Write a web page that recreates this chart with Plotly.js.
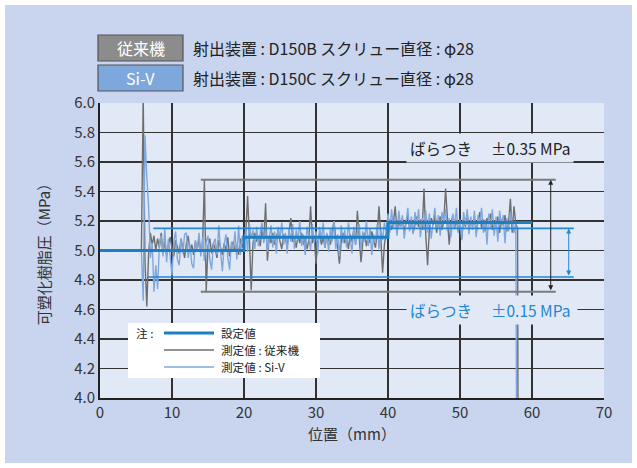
<!DOCTYPE html>
<html>
<head>
<meta charset="utf-8">
<script src="https://cdn.plot.ly/plotly-3.0.1.min.js"></script>
<style>html,body{margin:0;padding:0;background:#fff;}#chart{width:637px;height:468px;}</style>
</head>
<body>
<div id="chart"></div>
<script>
// ---- data ----
const setPos = [0, 20, 40, 60];
const setValue = [5.0, 5.09, 5.19, 5.19];

const startPos = [0, 5.75];
const startValue = [5.0, 5.0];

const samplePos = [
  6,6.25,6.5,6.75, 7,7.25,7.5,7.75, 8,8.25,8.5,8.75, 9,9.25,9.5,9.75,
  10,10.25,10.5,10.75, 11,11.25,11.5,11.75, 12,12.25,12.5,12.75, 13,13.25,13.5,13.75,
  14,14.25,14.5,14.75, 15,15.25,15.5,15.75, 16,16.25,16.5,16.75, 17,17.25,17.5,17.75,
  18,18.25,18.5,18.75, 19,19.25,19.5,19.75, 20,20.25,20.5,20.75, 21,21.25,21.5,21.75,
  22,22.25,22.5,22.75, 23,23.25,23.5,23.75, 24,24.25,24.5,24.75, 25,25.25,25.5,25.75,
  26,26.25,26.5,26.75, 27,27.25,27.5,27.75, 28,28.25,28.5,28.75, 29,29.25,29.5,29.75,
  30,30.25,30.5,30.75, 31,31.25,31.5,31.75, 32,32.25,32.5,32.75, 33,33.25,33.5,33.75,
  34,34.25,34.5,34.75, 35,35.25,35.5,35.75, 36,36.25,36.5,36.75, 37,37.25,37.5,37.75,
  38,38.25,38.5,38.75, 39,39.25,39.5,39.75, 40,40.25,40.5,40.75, 41,41.25,41.5,41.75,
  42,42.25,42.5,42.75, 43,43.25,43.5,43.75, 44,44.25,44.5,44.75, 45,45.25,45.5,45.75,
  46,46.25,46.5,46.75, 47,47.25,47.5,47.75, 48,48.25,48.5,48.75, 49,49.25,49.5,49.75,
  50,50.25,50.5,50.75, 51,51.25,51.5,51.75, 52,52.25,52.5,52.75, 53,53.25,53.5,53.75,
  54,54.25,54.5,54.75, 55,55.25,55.5,55.75, 56,56.25,56.5,56.75, 57,57.25,57.5,57.75
];

const grayValue = [
  6.05,4.92,4.62,4.98, 5.12,5.04,5.10,5.00, 5.08,5.02,5.12,4.98, 5.06,4.97,5.04,5.09,
  5.01,4.96,5.07,5.03, 4.98,5.08,5.02,4.95, 5.05,5.10,4.99,5.04, 4.97,5.06,5.01,5.08,
  4.99,5.04,5.48,4.72, 5.03,5.08,4.98,5.05, 5.01,4.95,5.07,5.02, 4.97,5.05,5.00,5.09,
  4.96,5.03,5.06,4.99, 5.04,4.97,5.08,5.02, 5.06,5.12,5.37,5.08, 4.73,5.05,5.12,5.06,
  5.10,5.03,5.14,5.07, 5.32,4.93,5.10,5.05, 5.12,5.04,5.09,5.14, 5.06,5.01,5.11,5.08,
  5.03,5.13,5.22,5.06, 5.09,5.02,5.10,5.05, 5.12,5.04,5.08,5.01, 5.07,5.30,5.05,5.10,
  4.91,5.06,5.12,5.04, 5.09,5.02,5.11,5.07, 5.04,5.13,5.20,5.08, 5.03,4.91,5.06,5.12,
  5.05,5.09,5.01,5.11, 5.06,5.14,5.04,5.27, 5.08,4.92,5.06,5.12, 5.03,5.10,5.05,5.13,
  5.07,5.02,5.11,5.30, 5.09,4.85,5.04,5.12, 5.16,5.21,5.14,5.19, 5.30,5.12,5.20,5.16,
  5.22,5.13,5.19,5.24, 5.15,5.20,5.12,5.18, 5.23,5.16,5.21,5.14, 5.42,5.10,4.90,5.15,
  5.22,5.17,5.25,5.12, 5.19,5.23,5.14,5.20, 5.42,5.22,5.04,5.18, 5.24,5.15,5.21,5.13,
  5.19,5.08,5.22,5.16, 5.25,5.14,5.20,5.17, 5.23,5.12,5.19,5.26, 5.15,5.21,5.13,5.22,
  5.18,5.25,5.14,5.20, 5.16,5.23,5.12,5.21, 5.17,5.24,5.13,5.19, 5.35,5.12,5.30,5.18
];
const grayEndPos = [58.0, 58.05];
const grayEndValue = [5.15, 3.9];

const blueValue = [
  4.66,5.78,5.50,5.30, 4.95,5.05,4.72,4.90, 4.74,5.05,5.10,4.96, 5.15,4.92,5.08,4.97,
  4.83,5.06,5.13,4.94, 4.90,5.08,4.98,5.11, 5.12,4.95,5.04,4.91, 4.88,5.07,5.00,5.12,
  4.96,5.09,4.93,5.06, 5.10,4.94,4.87,5.05, 5.08,4.97,5.17,4.99, 4.86,5.04,5.11,4.95,
  4.87,5.06,5.00,5.13, 4.94,5.17,4.97,5.10, 5.04,5.15,4.99,5.18, 5.08,5.14,5.01,5.16,
  5.03,5.12,5.19,5.05, 5.15,4.99,5.10,5.17, 5.02,5.13,4.98,5.16, 5.08,5.19,5.04,5.12,
  4.98,5.15,5.06,5.18, 5.01,5.14,5.07,5.20, 5.03,5.11,4.97,5.16, 5.09,5.00,5.18,5.05,
  5.13,4.98,5.16,5.07, 5.19,5.02,5.12,4.99, 5.15,5.06,5.20,5.01, 5.11,4.96,5.17,5.05,
  5.14,5.02,5.19,5.08, 4.98,5.16,5.04,5.12, 5.18,5.00,5.13,5.06, 5.20,5.03,5.15,4.97,
  5.11,5.05,5.18,5.01, 5.14,5.07,5.19,5.12, 5.25,5.12,5.28,5.15, 5.22,5.10,5.27,5.16,
  5.24,5.08,5.21,5.29, 5.13,5.23,5.11,5.26, 5.17,5.28,5.09,5.22, 5.14,5.27,5.12,5.25,
  5.08,5.21,5.29,5.15, 5.24,5.10,5.26,5.18, 5.28,5.13,5.22,5.09, 5.25,5.16,5.29,5.12,
  5.21,5.07,5.26,5.17, 5.28,5.11,5.23,5.14, 5.27,5.09,5.24,5.18, 5.29,5.12,5.21,5.04,
  5.25,5.15,5.28,5.10, 5.23,5.06,5.27,5.16, 5.24,5.05,5.22,5.13, 5.26,5.18,5.12,5.20
];
const blueEndPos = [57.85];
const blueEndValue = [3.9];

// spread bands (ばらつき)
const grayBand = [5.48, 4.72];
const grayBandPos = [14.0, 63.3];
const grayArrowPos = 62.6;
const blueBand = [5.15, 4.82];
const blueBandTopPos = [7.4, 65.8];
const blueBandBottomPos = [6.6, 65.8];
const blueArrowPos = 65.1;

const xTicks = [0, 10, 20, 30, 40, 50, 60, 70];
const yTicks = [4.0, 4.2, 4.4, 4.6, 4.8, 5.0, 5.2, 5.4, 5.6, 5.8, 6.0];

// ---- styles ----
const FONT = '"Noto Sans CJK JP", "Noto Sans", sans-serif';
const C_SET = '#1b7fc3';
const C_GRAY = '#6e6e6e';
const C_BLUE = '#7fa7dd';
const C_BAND_BLUE = '#2486cf';
const PAGE_BG = '#c9d5ee';
const PLOT_BG = '#e1e9f6';

const traces = [
  {x: startPos.concat(samplePos, grayEndPos), y: startValue.concat(grayValue, grayEndValue),
   mode: 'lines', line: {color: C_GRAY, width: 1.4}, name: '測定値 : 従来機'},
  {x: startPos.concat(samplePos, blueEndPos), y: startValue.concat(blueValue, blueEndValue),
   mode: 'lines', line: {color: C_BLUE, width: 1.4}, name: '測定値 : Si-V'},
  {x: setPos, y: setValue, mode: 'lines', line: {color: C_SET, width: 3, shape: 'hv'}, name: '設定値'}
];

// paper-coordinate helpers (plot area: 100..604 px wide, 103..398 px tall)
const L = 100, R = 604, T = 103, B = 398;
const px = v => (v - L) / (R - L);
const py = v => (B - v) / (B - T);

// inset legend rows (px)
const rowY = [333, 350, 367];

const shapes = [
  // page background frame
  {type: 'rect', xref: 'paper', yref: 'paper', x0: px(5), x1: px(632), y0: py(5), y1: py(463),
   fillcolor: PAGE_BG, line: {width: 0}, layer: 'below'},
  {type: 'rect', xref: 'paper', yref: 'paper', x0: 0, x1: 1, y0: 0, y1: 1,
   fillcolor: PLOT_BG, line: {width: 0}, layer: 'below'},
  // gray band lines
  {type: 'line', xref: 'x', yref: 'y', x0: grayBandPos[0], x1: grayBandPos[1], y0: grayBand[0], y1: grayBand[0],
   line: {color: '#7a7a7a', width: 2}},
  {type: 'line', xref: 'x', yref: 'y', x0: grayBandPos[0], x1: grayBandPos[1], y0: grayBand[1], y1: grayBand[1],
   line: {color: '#7a7a7a', width: 2}},
  // blue band lines
  {type: 'line', xref: 'x', yref: 'y', x0: blueBandTopPos[0], x1: blueBandTopPos[1], y0: blueBand[0], y1: blueBand[0],
   line: {color: C_BAND_BLUE, width: 1.6}},
  {type: 'line', xref: 'x', yref: 'y', x0: blueBandBottomPos[0], x1: blueBandBottomPos[1], y0: blueBand[1], y1: blueBand[1],
   line: {color: C_BAND_BLUE, width: 1.6}},
  // top legend boxes
  {type: 'rect', xref: 'paper', yref: 'paper', x0: px(98), x1: px(183), y0: py(35), y1: py(61),
   fillcolor: '#8c8c8c', line: {color: '#555', width: 1.2}},
  {type: 'rect', xref: 'paper', yref: 'paper', x0: px(98), x1: px(183), y0: py(65), y1: py(91),
   fillcolor: '#7ea7dc', line: {color: '#555', width: 1.2}},
  // inset legend
  {type: 'rect', xref: 'paper', yref: 'paper', x0: px(128), x1: px(320), y0: py(323), y1: py(378),
   fillcolor: '#ffffff', line: {width: 0}, layer: 'above'},
  {type: 'line', xref: 'paper', yref: 'paper', x0: px(164), x1: px(214), y0: py(rowY[0]), y1: py(rowY[0]),
   line: {color: C_SET, width: 3}},
  {type: 'line', xref: 'paper', yref: 'paper', x0: px(164), x1: px(214), y0: py(rowY[1]), y1: py(rowY[1]),
   line: {color: C_GRAY, width: 1.5}},
  {type: 'line', xref: 'paper', yref: 'paper', x0: px(164), x1: px(214), y0: py(rowY[2]), y1: py(rowY[2]),
   line: {color: C_BLUE, width: 1.5}}
];

const tf = (size, color) => ({family: FONT, size: size, color: color});
const txt = (x, y, text, font, xanchor) => ({
  x: px(x), y: py(y), xref: 'paper', yref: 'paper', xanchor: xanchor || 'left', yanchor: 'middle',
  showarrow: false, text: text, font: font
});

const band35 = txt(406, 148, 'ばらつき　 ±0.35 MPa', tf(15.5, '#222'));
band35.bgcolor = PLOT_BG; band35.borderpad = 3;
const band15 = txt(406, 310, 'ばらつき　 ±0.15 MPa ', tf(15.5, C_BAND_BLUE));
band15.bgcolor = PLOT_BG; band15.borderpad = 3;

const annotations = [
  // arrows
  {x: grayArrowPos, y: grayBand[0], ax: grayArrowPos, ay: grayBand[1], xref: 'x', yref: 'y', axref: 'x', ayref: 'y',
   text: '', showarrow: true, arrowside: 'end+start', arrowhead: 2, arrowsize: 1, arrowwidth: 1, arrowcolor: '#222'},
  {x: blueArrowPos, y: blueBand[0], ax: blueArrowPos, ay: blueBand[1], xref: 'x', yref: 'y', axref: 'x', ayref: 'y',
   text: '', showarrow: true, arrowside: 'end+start', arrowhead: 2, arrowsize: 1, arrowwidth: 1, arrowcolor: C_BAND_BLUE},
  band35, band15,
  // top legend
  txt(140.5, 48, '従来機', tf(16, '#ffffff'), 'center'),
  txt(140.5, 78, 'Si-V', tf(16, '#ffffff'), 'center'),
  txt(191, 48, '射出装置 : D150B スクリュー直径 : φ28', tf(16, '#222')),
  txt(191, 78, '射出装置 : D150C スクリュー直径 : φ28', tf(16, '#222')),
  // inset legend texts
  txt(134, rowY[0], '注 :', tf(11.6, '#222')),
  txt(219, rowY[0], '設定値', tf(11.6, '#222')),
  txt(219, rowY[1], '測定値 : 従来機', tf(11.6, '#222')),
  txt(219, rowY[2], '測定値 : Si-V', tf(11.6, '#222'))
];

const layout = {
  width: 637, height: 468,
  margin: {l: L, r: 637 - R, t: T, b: 468 - B, pad: 0},
  paper_bgcolor: '#ffffff',
  plot_bgcolor: PLOT_BG,
  showlegend: false,
  font: tf(15, '#333'),
  xaxis: {
    range: [0, 70], tickvals: xTicks, ticktext: xTicks.map(String),
    showgrid: true, gridcolor: '#333', gridwidth: 1.2,
    showline: true, linecolor: '#222', linewidth: 2, zeroline: false,
    ticks: '', tickfont: tf(15, '#333'),
    title: {text: '位置（mm）', font: tf(15, '#333'), standoff: 8}
  },
  yaxis: {
    range: [4, 6], tickvals: yTicks, ticktext: yTicks.map(v => v.toFixed(1)),
    showgrid: true, gridcolor: '#333', gridwidth: 1.2,
    showline: true, linecolor: '#222', linewidth: 2, zeroline: false,
    ticks: '', tickfont: tf(15, '#333'),
    title: {text: '可塑化樹脂圧（MPa）', font: tf(15, '#333'), standoff: 20}
  },
  shapes: shapes,
  annotations: annotations
};

Plotly.newPlot('chart', traces, layout, {displayModeBar: false, staticPlot: true});
</script>
</body>
</html>
